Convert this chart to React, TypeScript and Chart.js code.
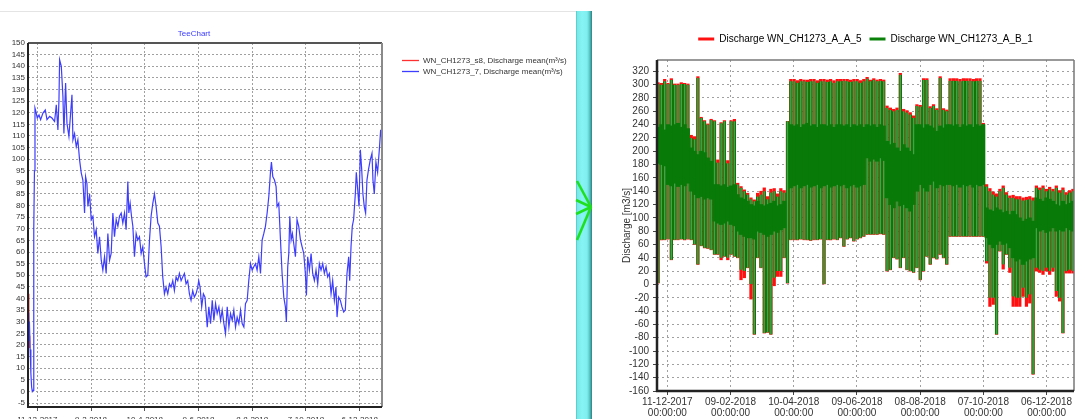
import { useEffect, useRef } from 'react';
import { Chart, registerables } from 'chart.js';

Chart.register(...registerables);

const FONT = '"Liberation Sans", Arial, Helvetica, sans-serif';
const DAY_MS = 86400000;
// x values are days counted from 11-12-2017 00:00
const ORIGIN_UTC = Date.UTC(2017, 11, 11);

// ---- Left chart: daily discharge mean (m³/s) ----
const s7Days = [
  -9.6, -9.2, -8.8, -8.0, -7.2, -6.4, -5.6, -4.8, -4.2, -3.7, -3.2, -2.6,
  -1.9, 0.0, 1.9, 3.7, 6.3, 8.9, 10.8, 13.8, 16.4, 19.3, 21.2, 23.0, 24.2, 24.9, 26.8, 28.6, 29.7, 31.6, 33.1, 35.3,
  37.2, 38.7, 39.8, 41.6, 43.5, 45.3, 47.2, 49.1, 50.9, 52.8, 53.9, 55.4, 56.5, 58.4, 60.2, 62.1, 63.9, 65.8, 67.6, 69.5,
  71.4, 73.2, 75.1, 76.9, 78.8, 80.7, 82.5, 84.4, 86.2, 88.1, 90.0, 91.8, 93.7, 95.5, 97.4, 99.2, 101.1, 102.2, 103.7, 105.2,
  106.7, 108.5, 110.4, 112.2, 114.1, 116.0, 117.8, 119.7, 121.5, 123.4, 125.3, 127.1, 129.0, 130.8, 132.7, 134.6, 136.4, 138.3, 140.1, 142.0,
  143.8, 145.7, 147.6, 149.4, 151.3, 153.1, 155.0, 156.9, 158.7, 160.6, 162.4, 164.3, 166.1, 168.0, 169.9, 171.7, 173.6, 175.4, 177.3, 179.2,
  180.3, 181.8, 183.6, 185.5, 187.3,
  189.8, 191.6, 193.5, 195.4, 197.2, 199.1, 200.9, 202.8, 204.7, 206.5, 208.4, 210.2, 212.1, 214.0, 215.8, 217.7, 219.5, 221.4, 223.2, 225.1,
  227.0, 228.8, 230.7, 232.5, 234.4, 236.2, 238.1, 240.0, 241.8, 243.7, 245.5, 247.4, 249.3, 251.1, 253.0, 254.8, 256.7, 258.6, 260.4, 261.5,
  263.0, 264.9, 266.7, 267.8, 269.7, 271.6, 273.4, 275.3, 277.1, 278.2, 279.7, 280.9, 282.0, 283.5, 284.9, 286.4, 288.3, 290.1, 292.0, 293.9,
  295.7, 297.6, 299.4, 300.6, 302.0, 303.9, 305.8, 307.6, 309.5, 311.3, 313.2, 315.0, 316.9, 318.8, 320.6, 322.5, 324.3, 326.2, 328.1, 329.9,
  331.8, 333.6, 334.8, 336.6, 338.5, 340.3, 342.2, 344.0, 345.9, 347.8, 348.9, 350.4, 351.8, 353.3, 355.2, 356.3, 357.8, 359.3, 360.8, 362.3,
  363.7, 365.2, 366.7, 368.2, 370.0, 371.9, 373.8, 374.9, 376.4, 378.2, 380.1, 382.0, 383.5, 384.9,
];
const s7Flow = [
  34, 22, 30, 18, 8, 2, 0, 0.5, 20, 70, 95, 122,
  121, 117.7, 119, 117, 119.8, 121.2, 117, 118.4, 117.7, 116.2, 123.4, 112.6, 125.6, 142.8, 140, 127, 111, 132.8, 115.5, 109.8,
  119.8, 127.7, 108.3, 111, 105.4, 108.3, 99.7, 94, 91, 76.8, 92.5, 89.6, 79.6, 85, 74, 75.4, 66.6, 69.6, 59.4, 66.6,
  56.5, 52.2, 58, 50.8, 68, 56.5, 59.4, 76.8, 66.6, 74, 71.1, 75.4, 76.8, 72.5, 76.8, 69.6, 90.4, 76.8, 81, 75.4,
  71.1, 58, 68, 65.2, 66.6, 59.4, 62.3, 55, 49.3, 50, 65.2, 75.4, 81, 85, 79.6, 72.5, 71.1, 62.3, 49.3, 42,
  44.9, 42, 46.3, 44.9, 47.7, 43.4, 49.3, 47.7, 50.8, 47.7, 49.3, 50.8, 46.3, 47.7, 42, 39.2, 43.4, 40.6, 42, 44.9,
  47.7, 44.9, 36.4, 42, 40.6,
  27.7, 36.4, 29.2, 39.2, 30.6, 37.8, 33.5, 36.4, 30.6, 35, 29.2, 24.9, 36.4, 27.7, 33.5, 30.6, 35, 27.7, 32, 29.2,
  35, 29.2, 27.7, 37.8, 39.2, 47.7, 55, 52.2, 53.7, 55, 52.2, 58, 50.8, 65.2, 68, 71.1, 76.8, 84, 94.3, 98.8,
  92.5, 91, 88.2, 79.6, 81, 65.2, 50.8, 40.6, 36.4, 29.9, 53.7, 59.4, 75.4, 65.2, 68, 63.7, 58, 74, 71.1, 65.2,
  62.3, 59.4, 50.8, 41.3, 58, 52.2, 59.4, 50.8, 47.7, 52.2, 46.3, 55, 52.2, 55, 50.8, 53.7, 49.3, 50.8, 42, 47.7,
  39.2, 44.9, 32, 40.6, 39.2, 36.4, 34.2, 35, 50.8, 58, 47.7, 62.3, 71.1, 74, 85, 94.3, 87.2, 79.6, 104, 95.7,
  85, 79.6, 76.8, 91, 95.7, 99.7, 102.5, 91, 85, 98.8, 94.3, 104, 112.6, 108.3,
];
const s8Days = [-9.9, -9.6, -9.3, -8.9, -8.5];
const s8Flow = [42, 36, 21, 19, 24];

// ---- Right chart: discharge ranges per 3-day bin (m3/s) ----
const binStartDay = -8.8;
const binStepDays = 3.15;
const abHigh = [
  301, 300, 305, 301, 307, 300, 300, 301, 301, 300,
  220, 218, 310, 250, 245, 240, 247,
  245, 183, 242, 245, 182, 245, 245,
  150, 145, 140, 135, 128, 125,
  132, 135, 140, 128, 138, 140, 132, 140, 138,
  245,
  305, 305, 303, 305, 305, 304, 305, 305, 303, 305, 305, 304, 305, 303, 305,
  305, 306, 305, 304, 305, 305, 303, 305,
  309, 305, 307, 305, 306, 305,
  265, 262, 260, 262, 315, 260, 258, 255, 250,
  268, 267, 307, 307, 265, 268, 262, 310, 262, 260,
  306, 306, 306, 305, 306, 306, 306, 305, 306, 306,
  240, 147,
  140, 135, 132, 140, 145, 135, 130,
  130, 128, 128, 126, 127, 128, 126,
  145, 142, 145, 140, 143, 140, 145, 138,
  142, 135, 138, 140,
];
const abLow = [
  2, 67, 67, 68, 37, 67, 67, 68, 67, 68,
  67, 60, 30, 58, 55, 54, 52,
  45, 45, 40, 42, 40, 45, 42,
  40, 22, 20, 25, 0, -75,
  40, 25, -73, -72, -75, 10, 20, 20, 40,
  2,
  67, 67, 67, 68, 67, 67, 66, 67, 67, 68, 0, 67, 67, 68, 67,
  70, 57, 68, 70, 65, 68, 70, 72,
  75, 75, 75, 75, 76, 75,
  20, 22, 40, 38, 25, 40, 22, 20, 18,
  25, 7, 20, 42, 30, 40, 38, 45, 40, 30,
  72, 72, 72, 72, 72, 72, 72, 72, 72, 72,
  72, 35,
  -20, -20, -75, 50, 30, 45, 25,
  -18, -20, -20, -5, -20, -15, -135,
  25, 22, 20, 25, 20, 25, -10, -20,
  -73, 20, 22, 20,
];
// densest band of each bin, where the trace overlaps itself
const abCoreHigh = [
  236, 240, 232, 240, 238, 240, 242, 236, 240, 234,
  205, 200, 195, 200, 198, 190, 185,
  150, 150, 148, 150, 146, 148, 150,
  135, 130, 128, 125, 120, 118,
  125, 120, 118, 120, 122, 125, 118, 120, 125,
  null,
  240, 238, 240, 236, 240, 242, 238, 240, 236, 240, 240, 238, 240, 236, 240,
  240, 238, 240, 236, 240, 238, 240, 236,
  240, 238, 240, 236, 240, 238,
  215, 210, 212, 205, 200, 210, 205, 200, 195,
  240, 240, 235, 240, 238, 235, 230, 238, 235, 240,
  240, 238, 240, 236, 240, 238, 240, 236, 240, 238,
  240, 115,
  112, 110, 115, 112, 108, 110, 105,
  110, 105, 100, 95, 98, 100, 95,
  130, 128, 125, 130, 128, 125, 120, 118,
  125, 120, 122, 125,
];
const abCoreLow = [
  182, 180, 178, 150, 148, 152, 147, 150, 148, 152,
  140, 135, 130, 132, 128, 130, 128,
  95, 92, 90, 92, 95, 90, 88,
  80, 75, 72, 70, 70, 68,
  80, 78, 75, 72, 75, 80, 78, 82, 85,
  null,
  145, 148, 150, 145, 148, 150, 146, 148, 150, 145, 148, 150, 146, 148, 150,
  148, 150, 145, 148, 150, 146, 148, 150,
  190, 185, 188, 185, 190, 186,
  130, 120, 115, 125, 118, 120, 115, 110, 120,
  140, 150, 145, 140, 150, 155, 145, 150, 148, 150,
  150, 148, 150, 146, 150, 148, 150, 146, 150, 148,
  150, 70,
  60, 55, 60, 65, 60, 62, 55,
  40, 35, 38, 30, 35, 38, 40,
  85, 80, 82, 78, 80, 85, 80, 82,
  80, 85, 82, 80,
];
const aaHigh = [
  303, 302, 308, 302, 309, 301, 301, 303, 302, 301,
  224, 222, 312, 251, 246, 241, 248,
  246, 187, 243, 246, 186, 246, 248,
  152, 147, 142, 137, 130, 127,
  137, 140, 145, 132, 143, 144, 136, 144, 141,
  245,
  308, 308, 306, 308, 307, 307, 308, 308, 306, 308, 308, 307, 308, 306, 308,
  308, 308, 308, 307, 308, 308, 306, 308,
  311, 307, 309, 307, 308, 307,
  268, 265, 263, 265, 317, 263, 261, 258, 253,
  270, 269, 309, 309, 267, 270, 264, 312, 264, 262,
  309, 309, 309, 308, 309, 309, 309, 308, 309, 309,
  242, 150,
  144, 139, 136, 143, 148, 138, 133,
  134, 132, 132, 130, 131, 132, 130,
  148, 145, 148, 143, 146, 143, 148, 141,
  145, 138, 141, 143,
];
const aaLow = [
  2, 67, 67, 68, 37, 67, 67, 68, 67, 68,
  67, 60, 30, 58, 55, 54, 52,
  45, 45, 37, 42, 37, 45, 42,
  40, 7, 10, 25, -22, -75,
  40, 25, -73, -72, -75, -2, 12, 12, 40,
  2,
  67, 67, 67, 68, 67, 67, 66, 67, 67, 68, 0, 67, 67, 68, 67,
  70, 57, 68, 70, 65, 68, 70, 72,
  75, 75, 75, 75, 76, 75,
  20, 22, 40, 38, 25, 40, 22, 20, 18,
  25, 7, 20, 42, 30, 40, 38, 45, 40, 30,
  72, 72, 72, 72, 72, 72, 72, 72, 72, 72,
  72, 32,
  -33, -30, -75, 50, 23, 45, 18,
  -33, -33, -33, -18, -33, -28, -135,
  20, 18, 15, 20, 15, 20, -18, -25,
  -73, 17, 17, 17,
];

function dateLabel(day: number, padded: boolean): string {
  const d = new Date(ORIGIN_UTC + Math.round(day) * DAY_MS);
  const dd = d.getUTCDate();
  const mm = d.getUTCMonth() + 1;
  const yy = d.getUTCFullYear();
  if (padded) return `${String(dd).padStart(2, '0')}-${String(mm).padStart(2, '0')}-${yy}`;
  return `${dd}-${mm}-${yy}`;
}

// outline of the plotting area, each side with its own pen
const framePlugin = {
  id: 'frame',
  afterDatasetsDraw(chart: any, _args: any, opts: any) {
    const { ctx, chartArea } = chart;
    const { left, right, top, bottom } = chartArea;
    const side = (x1: number, y1: number, x2: number, y2: number, pen: any) => {
      ctx.strokeStyle = pen.color;
      ctx.lineWidth = pen.width;
      ctx.beginPath();
      ctx.moveTo(x1, y1);
      ctx.lineTo(x2, y2);
      ctx.stroke();
    };
    ctx.save();
    side(left, top, right, top, opts.top);
    side(right, top, right, bottom, opts.right);
    side(left - 1, bottom, right, bottom, opts.bottom);
    side(left, top, left, bottom + 1, opts.left);
    ctx.restore();
  },
};

// extra room between the legend row and the plot
const legendGapPlugin = {
  id: 'legendGap',
  beforeInit(chart: any, _args: any, opts: any) {
    const legend = chart.legend;
    if (!legend) return;
    const fit = legend.fit;
    legend.fit = function () {
      fit.call(this);
      this.height += opts.gap || 0;
    };
  },
};

// TeeChart-style caption and legend beside the plot
const teeLabelsPlugin = {
  id: 'teeLabels',
  afterDraw(chart: any, _args: any, opts: any) {
    const { ctx, chartArea } = chart;
    ctx.save();
    ctx.font = `8px ${FONT}`;
    ctx.textBaseline = 'middle';
    ctx.textAlign = 'center';
    ctx.fillStyle = '#3c3cff';
    ctx.fillText(opts.title, chartArea.left + 166, chartArea.top - 9);
    ctx.textAlign = 'left';
    opts.order.forEach((dsIndex: number, k: number) => {
      const ds = chart.data.datasets[dsIndex];
      const y = chartArea.top + 17.5 + k * 11;
      ctx.strokeStyle = ds.borderColor;
      ctx.lineWidth = 1.3;
      ctx.beginPath();
      ctx.moveTo(chartArea.right + 20, y);
      ctx.lineTo(chartArea.right + 37, y);
      ctx.stroke();
      ctx.fillStyle = '#333';
      ctx.fillText(ds.label, chartArea.right + 41, y + 0.5);
    });
    ctx.restore();
  },
};

function LeftChart() {
  const ref = useRef<HTMLCanvasElement>(null);
  useEffect(() => {
    const s7 = s7Days.map((d, i) => ({ x: d, y: s7Flow[i] }));
    const s8 = s8Days.map((d, i) => ({ x: d, y: s8Flow[i] }));
    const grid = { color: '#a0a0a0', lineWidth: 1 };
    const chart = new Chart(ref.current as HTMLCanvasElement, {
      type: 'line',
      data: {
        datasets: [
          {
            label: 'WN_CH1273_7, Discharge mean(m³/s)',
            data: s7,
            borderColor: '#3d3dff',
            borderWidth: 1.2,
            pointRadius: 0,
            tension: 0,
          },
          {
            label: 'WN_CH1273_s8, Discharge mean(m³/s)',
            data: s8,
            borderColor: '#ff3030',
            borderWidth: 1.2,
            pointRadius: 0,
            tension: 0,
          },
        ],
      } as any,
      options: {
        animation: false,
        responsive: false,
        layout: { padding: { top: 43, right: 193, left: 0, bottom: 0 } },
        plugins: {
          legend: { display: false },
          tooltip: { enabled: false },
          frame: {
            top: { color: '#555', width: 2 },
            right: { color: '#8a8a8a', width: 2 },
            bottom: { color: '#222', width: 2 },
            left: { color: '#222', width: 2 },
          },
          teeLabels: { title: 'TeeChart', order: [1, 0] },
        } as any,
        scales: {
          x: {
            type: 'linear',
            min: -10.4,
            max: 385,
            afterFit: (s: any) => { s.height = 23; },
            ticks: {
              stepSize: 60,
              includeBounds: false,
              autoSkip: false,
              maxRotation: 0,
              padding: 4,
              color: '#333',
              font: { size: 8, family: FONT },
              callback: (v: any) => dateLabel(Number(v), false),
            } as any,
            grid: { ...grid, tickLength: 4, tickColor: '#555' },
            border: { display: false, dash: [2, 2] },
          },
          y: {
            min: -6.7,
            max: 150,
            afterFit: (s: any) => { s.width = 28; },
            ticks: {
              stepSize: 5,
              includeBounds: false,
              autoSkip: false,
              padding: 3,
              color: '#333',
              font: { size: 8, family: FONT },
            } as any,
            grid: { ...grid, drawTicks: false },
            border: { display: false, dash: [2, 2] },
          },
        },
      } as any,
      plugins: [framePlugin, teeLabelsPlugin],
    });
    return () => chart.destroy();
  }, []);
  return <canvas ref={ref} width={575} height={430} style={{ position: 'absolute', left: 0, top: 0 }} />;
}

function RightChart() {
  const ref = useRef<HTMLCanvasElement>(null);
  useEffect(() => {
    const binDays = abHigh.map((_, i) => binStartDay + i * binStepDays);
    const aa = binDays.map((d, i) => ({ x: d, y: [aaLow[i], aaHigh[i]] }));
    const ab = binDays.map((d, i) => ({ x: d, y: [abLow[i], abHigh[i]] }));
    const core = binDays
      .map((d, i) => ({ x: d, y: [abCoreLow[i], abCoreHigh[i]] }))
      .filter((p) => p.y[0] !== null && p.y[1] !== null);
    const grid = { color: '#a0a0a0', lineWidth: 1 };
    const chart = new Chart(ref.current as HTMLCanvasElement, {
      type: 'bar',
      data: {
        datasets: [
          {
            label: 'Discharge WN_CH1273_A_A_5',
            data: aa,
            backgroundColor: '#ff1010',
            barThickness: 2.6,
            order: 3,
          },
          {
            label: 'Discharge WN_CH1273_A_B_1',
            data: ab,
            backgroundColor: 'rgb(72,160,72)',
            borderColor: '#007800',
            borderWidth: { left: 0.9, right: 0.9, top: 0, bottom: 0 },
            borderSkipped: false,
            barThickness: 2.6,
            order: 2,
          },
          {
            label: 'dense',
            data: core,
            backgroundColor: '#087a08',
            barThickness: 3.4,
            order: 1,
          },
        ],
      } as any,
      options: {
        animation: false,
        responsive: false,
        datasets: { bar: { grouped: false } },
        layout: { padding: { top: 26, right: 11, left: 0, bottom: 0 } },
        plugins: {
          tooltip: { enabled: false },
          legendGap: { gap: 6 },
          legend: {
            position: 'top',
            fullSize: false,
            labels: {
              boxWidth: 16,
              boxHeight: 3,
              padding: 8,
              color: '#333',
              font: { size: 10, family: FONT },
              generateLabels: (c: any) => [
                { text: c.data.datasets[0].label, fillStyle: '#ff1010', strokeStyle: '#ff1010', lineWidth: 0, datasetIndex: 0, hidden: false },
                { text: c.data.datasets[1].label, fillStyle: '#0a820a', strokeStyle: '#0a820a', lineWidth: 0, datasetIndex: 1, hidden: false },
              ],
            },
          },
          frame: {
            top: { color: '#777', width: 1.5 },
            right: { color: '#777', width: 1.5 },
            bottom: { color: '#222', width: 2.5 },
            left: { color: '#222', width: 2.5 },
          },
        } as any,
        scales: {
          x: {
            type: 'linear',
            min: -9.8,
            max: 386,
            offset: false,
            afterFit: (s: any) => { s.height = 39; },
            ticks: {
              stepSize: 60,
              includeBounds: false,
              autoSkip: false,
              maxRotation: 0,
              padding: 2,
              color: '#333',
              font: { size: 10, family: FONT, lineHeight: 1.1 },
              callback: (v: any) => [dateLabel(Number(v), true), '00:00:00'],
            } as any,
            grid: { ...grid, offset: false, tickLength: 4, tickColor: '#444' },
            border: { display: false, dash: [2, 3] },
          },
          y: {
            min: -160,
            max: 337,
            afterFit: (s: any) => { s.width = 57; },
            ticks: {
              stepSize: 20,
              includeBounds: false,
              autoSkip: false,
              padding: 4,
              color: '#333',
              font: { size: 10, family: FONT },
            } as any,
            title: {
              display: true,
              text: 'Discharge [m3/s]',
              color: '#333',
              font: { size: 10, family: FONT },
              padding: { top: 21, bottom: 0 },
            },
            grid: { ...grid, tickLength: 4, tickColor: '#444' },
            border: { display: false, dash: [2, 3] },
          },
        },
      } as any,
      plugins: [framePlugin, legendGapPlugin],
    });
    return () => chart.destroy();
  }, []);
  return <canvas ref={ref} width={485} height={430} style={{ position: 'absolute', left: 600, top: 0 }} />;
}

function Divider() {
  return (
    <>
      <div
        style={{
          position: 'absolute',
          left: 576,
          top: 11,
          width: 16,
          bottom: 0,
          background:
            'linear-gradient(to right, #4cc4c4 0px, #7be8e8 1.5px, #86f4f4 6px, #80eeee 11px, #62d2d2 13px, #3f9f9f 15px, #2e7c7c 16px)',
        }}
      />
      <svg
        width={40}
        height={100}
        style={{ position: 'absolute', left: 560, top: 160, overflow: 'visible' }}
      >
        <g stroke="#1fe01f" strokeWidth={2.6} strokeLinecap="butt" fill="none">
          <line x1={17} y1={21} x2={31} y2={47} />
          <line x1={16} y1={40} x2={31} y2={47} />
          <line x1={16} y1={54} x2={31} y2={47} />
          <line x1={17} y1={80} x2={31} y2={47} />
        </g>
      </svg>
    </>
  );
}

export default function App() {
  return (
    <div
      style={{
        position: 'fixed',
        left: 0,
        top: 0,
        width: 1085,
        height: 419,
        overflow: 'hidden',
        background: '#ffffff',
        fontFamily: FONT,
      }}
    >
      <div style={{ position: 'absolute', left: 0, top: 11, width: 576, height: 1, background: '#e4e4e4' }} />
      <LeftChart />
      <Divider />
      <RightChart />
    </div>
  );
}
